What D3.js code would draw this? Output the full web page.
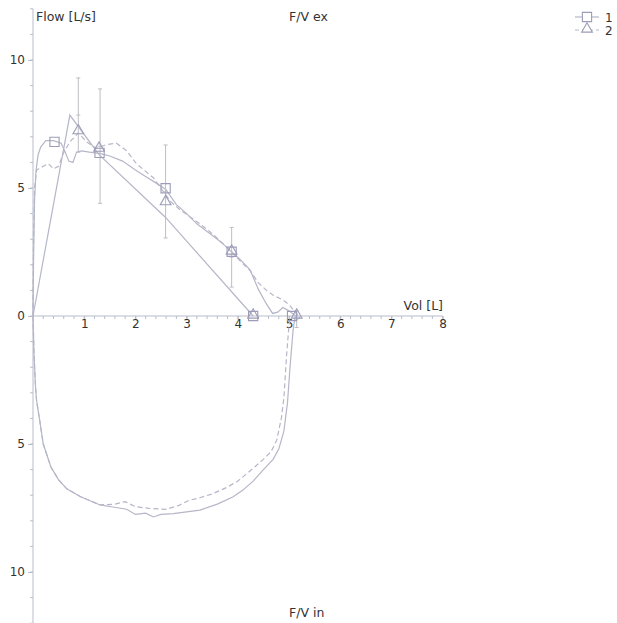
<!DOCTYPE html>
<html>
<head>
<meta charset="utf-8">
<script src="https://cdn.jsdelivr.net/npm/d3@7"></script>
<style>
  html, body { margin: 0; padding: 0; background: #fff; }
  svg { display: block; }
  text { font-family: "DejaVu Sans", Verdana, sans-serif; font-size: 12px; fill: #333; }
  text.title { font-size: 12.5px; }
</style>
</head>
<body>
<svg id="chart" width="617" height="623"></svg>
<script>
// Flow-volume loop: expiration plotted upward, inspiration downward.

// Axis ticks
const xTicks = [1, 2, 3, 4, 5, 6, 7, 8];
const yTicks = [-10, -5, 0, 5, 10];

// Trial 1 (solid) — expiratory limb
const ex1Vol  = [0, 0.01, 0.03, 0.06, 0.1, 0.15, 0.25, 0.4, 0.55, 0.63, 0.7, 0.78, 0.85, 0.95, 1.1, 1.3, 1.5, 1.75, 2.0, 2.2, 2.4, 2.59, 2.8, 3.0, 3.2, 3.4, 3.6, 3.75, 3.88, 4.05, 4.24, 4.4, 4.55, 4.68, 4.78, 4.88, 5.0, 5.1, 5.15];
const ex1Flow = [0, 2.0, 4.5, 5.7, 6.3, 6.6, 6.85, 6.85, 6.75, 6.4, 6.05, 6.0, 6.4, 6.45, 6.4, 6.35, 6.25, 6.05, 5.7, 5.45, 5.2, 4.95, 4.35, 4.0, 3.6, 3.3, 3.0, 2.75, 2.5, 2.2, 1.8, 1.05, 0.5, 0.1, 0.15, 0.33, 0.2, 0.05, 0];

// Trial 2 (dashed) — expiratory limb
const ex2Vol  = [0, 0.01, 0.03, 0.07, 0.2, 0.3, 0.4, 0.5, 0.59, 0.72, 0.885, 1.05, 1.24, 1.44, 1.63, 1.83, 2.02, 2.2, 2.35, 2.55, 2.7, 2.87, 3.05, 3.26, 3.45, 3.65, 3.88, 4.05, 4.25, 4.4, 4.56, 4.7, 4.86, 5.0, 5.1, 5.18];
const ex2Flow = [0, 3.0, 5.0, 5.7, 5.85, 5.95, 5.75, 5.85, 6.35, 6.8, 7.15, 6.8, 6.55, 6.7, 6.75, 6.45, 5.95, 5.65, 5.4, 4.85, 4.45, 4.15, 3.9, 3.6, 3.3, 2.95, 2.5, 2.15, 1.75, 1.3, 1.0, 0.8, 0.65, 0.45, 0.2, 0];

// Trial 1 (solid) — inspiratory limb
const in1Vol  = [0, 0.02, 0.05, 0.07, 0.14, 0.2, 0.35, 0.5, 0.66, 0.92, 1.31, 1.56, 1.83, 2.0, 2.2, 2.35, 2.5, 2.74, 3.0, 3.26, 3.6, 3.91, 4.1, 4.3, 4.5, 4.69, 4.8, 4.9, 4.97, 5.02, 5.08, 5.12];
const in1Flow = [0, -1.5, -2.8, -3.3, -4.2, -5.0, -5.9, -6.4, -6.75, -7.05, -7.38, -7.46, -7.55, -7.75, -7.7, -7.85, -7.75, -7.72, -7.65, -7.58, -7.35, -7.06, -6.8, -6.45, -6.0, -5.6, -5.2, -4.5, -3.4, -2.0, -0.55, 0];

// Trial 2 (dashed) — inspiratory limb
const in2Vol  = [0, 0.02, 0.05, 0.07, 0.14, 0.2, 0.35, 0.5, 0.66, 0.92, 1.31, 1.6, 1.8, 2.0, 2.3, 2.6, 2.85, 3.05, 3.26, 3.5, 3.78, 4.0, 4.3, 4.5, 4.65, 4.76, 4.85, 4.9, 4.95, 4.99, 5.02];
const in2Flow = [0, -1.5, -2.8, -3.3, -4.2, -5.0, -5.9, -6.4, -6.75, -7.05, -7.38, -7.35, -7.25, -7.45, -7.52, -7.55, -7.4, -7.2, -7.1, -6.95, -6.7, -6.45, -5.95, -5.6, -5.3, -4.85, -4.0, -3.2, -1.6, -0.6, 0];

// Reference (predicted) expiratory curve
const predVol  = [0, 0.72, 1.29, 2.59, 4.3];
const predFlow = [0, 7.85, 6.3, 3.85, 0];

// Reference ranges at the characteristic points
const rangeVol  = [0.885, 1.31, 2.59, 3.88, 5.15];
const rangeLow  = [6.4, 4.4, 3.05, 1.13, -0.45];
const rangeMid  = [7.85, 6.63, 4.87, 2.3, -0.12];
const rangeHigh = [9.3, 8.87, 6.68, 3.46, 0.2];

// Characteristic-point markers
const mark1Vol  = [0.42, 1.3, 2.59, 3.88, 4.3, 5.06];
const mark1Flow = [6.8, 6.37, 4.99, 2.51, 0, 0];
const mark2Vol  = [0.885, 1.29, 2.59, 3.88, 4.3, 5.15];
const mark2Flow = [7.2, 6.52, 4.43, 2.5, 0, 0];

const seriesNames = ["1", "2"];

const lineColor = "#b6b6c8";
const markColor = "#9c9cb8";
const axisColor = "#b9bccb";
const barColor  = "#bdbdc4";

const svg = d3.select("#chart");

const x = d3.scaleLinear().domain([0, 8]).range([33, 442.6]);
const y = d3.scaleLinear().domain([12, -12]).range([8.8, 623.2]);

// ---- axes ----
const gy = svg.append("g").attr("transform", `translate(${x(0)},0)`);
gy.append("line").attr("x1", 0).attr("x2", 0).attr("y1", y(12)).attr("y2", y(-12))
  .attr("stroke", axisColor);
gy.selectAll("line.minor").data(d3.range(-12, 13, 1)).join("line").attr("class", "minor")
  .attr("x1", -3).attr("x2", 0).attr("y1", d => y(d)).attr("y2", d => y(d))
  .attr("stroke", axisColor);
const yAxis = d3.axisLeft(y).tickValues(yTicks).tickSize(5).tickPadding(3)
  .tickFormat(d => Math.abs(d));
const gyMajor = svg.append("g").attr("transform", `translate(${x(0)},0)`).call(yAxis);
gyMajor.select(".domain").remove();
gyMajor.selectAll(".tick line").attr("stroke", axisColor);
gyMajor.selectAll(".tick text").attr("font-size", null).attr("font-family", null).style("font-size", "12px");

const gx = svg.append("g").attr("transform", `translate(0,${y(0)})`);
gx.append("line").attr("x1", x(0)).attr("x2", x(8)).attr("y1", 0).attr("y2", 0)
  .attr("stroke", axisColor);
gx.selectAll("line.minor").data(d3.range(0.2, 8.01, 0.2)).join("line").attr("class", "minor")
  .attr("x1", d => x(d)).attr("x2", d => x(d)).attr("y1", 0).attr("y2", 3)
  .attr("stroke", axisColor);
const xAxis = d3.axisBottom(x).tickValues(xTicks).tickSize(4).tickFormat(d3.format("d"));
const gxMajor = svg.append("g").attr("transform", `translate(0,${y(0)})`).call(xAxis);
gxMajor.select(".domain").remove();
gxMajor.selectAll(".tick line").attr("stroke", axisColor);
gxMajor.selectAll(".tick text").attr("font-size", null).attr("font-family", null)
  .style("font-size", "12px").attr("y", 12).attr("dy", 0);

// ---- titles ----
svg.append("text").attr("class", "title").attr("x", 36).attr("y", 21).text("Flow [L/s]");
svg.append("text").attr("class", "title").attr("x", 289).attr("y", 21).text("F/V ex");
svg.append("text").attr("class", "title").attr("x", 289).attr("y", 617).text("F/V in");
svg.append("text").attr("class", "title").attr("x", 443).attr("y", 310).attr("text-anchor", "end").text("Vol [L]");

// ---- curves ----
const line = d3.line().x(d => x(d[0])).y(d => y(d[1]));
const zip = (a, b) => a.map((v, i) => [v, b[i]]);

const plot = svg.append("g").attr("fill", "none").attr("stroke-width", 1.2);

plot.append("path").datum(zip(predVol, predFlow)).attr("d", line).attr("stroke", lineColor);
plot.append("path").datum(zip(ex1Vol, ex1Flow)).attr("d", line).attr("stroke", lineColor);
plot.append("path").datum(zip(in1Vol, in1Flow)).attr("d", line).attr("stroke", lineColor);
plot.append("path").datum(zip(ex2Vol, ex2Flow)).attr("d", line).attr("stroke", lineColor)
  .attr("stroke-dasharray", "5,3");
plot.append("path").datum(zip(in2Vol, in2Flow)).attr("d", line).attr("stroke", lineColor)
  .attr("stroke-dasharray", "5,3");

// ---- reference ranges ----
const bars = svg.append("g").attr("stroke", barColor).attr("stroke-width", 1);
rangeVol.forEach((v, i) => {
  const cx = x(v);
  bars.append("line").attr("x1", cx).attr("x2", cx).attr("y1", y(rangeHigh[i])).attr("y2", y(rangeLow[i]));
  [rangeHigh[i], rangeMid[i], rangeLow[i]].forEach(f => {
    bars.append("line").attr("x1", cx - 2).attr("x2", cx + 2).attr("y1", y(f)).attr("y2", y(f));
  });
});

// ---- markers ----
const sq = d3.symbol().type(d3.symbolSquare).size(85);
const tri = d3.symbol().type(d3.symbolTriangle).size(50);
const marks = svg.append("g").attr("fill", "none").attr("stroke", markColor).attr("stroke-width", 1.1);
zip(mark1Vol, mark1Flow).forEach(d => {
  marks.append("path").attr("d", sq).attr("transform", `translate(${x(d[0])},${y(d[1])})`);
});
zip(mark2Vol, mark2Flow).forEach(d => {
  marks.append("path").attr("d", tri).attr("transform", `translate(${x(d[0])},${y(d[1]) - 1})`);
});

// ---- legend ----
const legend = svg.append("g");
seriesNames.forEach((name, i) => {
  const ly = 17 + i * 13;
  legend.append("line").attr("x1", 575).attr("x2", 599).attr("y1", ly).attr("y2", ly)
    .attr("stroke", lineColor).attr("stroke-width", 1.2)
    .attr("stroke-dasharray", i === 1 ? "4,3" : null);
  legend.append("path").attr("d", i === 0 ? sq : tri)
    .attr("transform", `translate(587,${ly - (i === 1 ? 1 : 0)})`)
    .attr("fill", "#fff").attr("stroke", markColor).attr("stroke-width", 1.1);
  legend.append("text").attr("x", 605).attr("y", ly + 4.5).text(name);
});
</script>
</body>
</html>
